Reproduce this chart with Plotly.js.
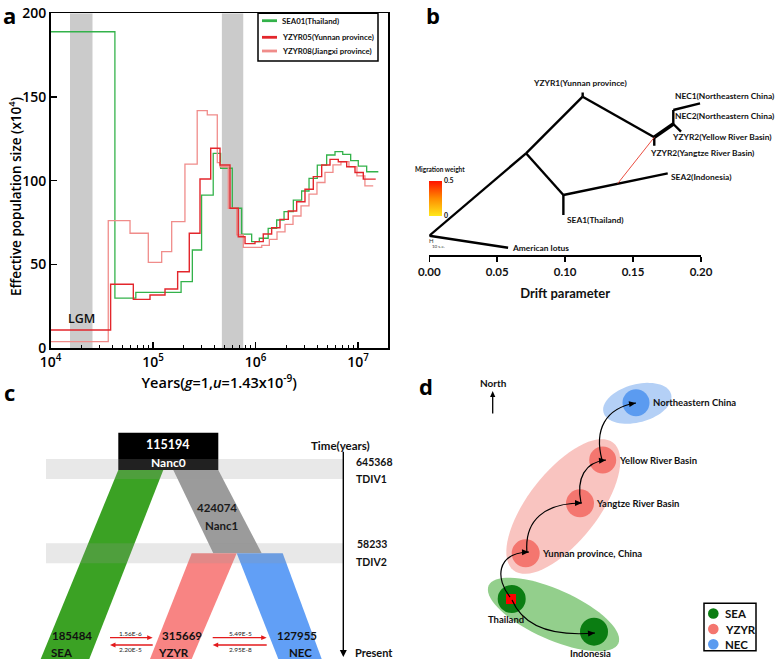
<!DOCTYPE html>
<html><head><meta charset="utf-8">
<script src="https://cdn.plot.ly/plotly-3.0.1.min.js"></script>
<style>html,body{margin:0;padding:0;background:#fff;}#chart{width:778px;height:659px;}</style>
</head><body><div id="chart"></div>
<script>
// ===== Panel a: PSMC effective population size =====
const psmcNames = ['SEA01(Thailand)', 'YZYR05(Yunnan province)', 'YZYR08(Jiangxi province)'];
const psmcColors = ['#33b24a', '#e3262c', '#f08c8a'];
const seaYears = [10000, 42500, 68000, 188000, 242000, 298000, 387000, 457000, 594000, 733000, 918000, 1090000, 1330000, 1610000, 1900000, 2340000, 2820000, 3330000, 4010000, 4950000, 5970000, 7100000, 8490000, 10070000, 12160000, 15800000];
const seaNe = [189, 29.9, 33.4, 39.8, 58.7, 91.5, 116.4, 107.5, 83.6, 68.2, 63.7, 65.7, 71.6, 76.6, 81.6, 88.5, 93.9, 101.5, 109.4, 115.4, 117.4, 115.8, 112, 108.8, 105.4, 105.4];
const yzyr05Years = [10000, 38600, 64300, 93500, 131000, 174000, 226000, 287500, 365800, 450800, 564000, 679000, 791000, 989000, 1191000, 1438000, 1734000, 2089000, 2522000, 3041000, 3666000, 4426000, 5336000, 6430000, 7763000, 9354000, 11270000, 14900000];
const yzyr05Ne = [10.9, 38.2, 29.2, 31.8, 35.4, 45.7, 68.7, 101.1, 119.4, 109.4, 83.6, 66.6, 62.5, 63.7, 68.2, 72, 77, 82, 87.5, 95, 102.5, 109.4, 112.8, 111.4, 108.4, 105, 101, 101];
const yzyr08Years = [10000, 36600, 59700, 90000, 121600, 152200, 205000, 270000, 338600, 424000, 451000, 543000, 656000, 761000, 1151000, 1365000, 1622000, 1942000, 2324000, 2781000, 3327000, 3981000, 4764000, 5702000, 6823000, 8166000, 9772000, 11690000, 14090000];
const yzyr08Ne = [4, 76.2, 68.7, 51.3, 57.7, 75.6, 110, 141.9, 139.3, 110.8, 108.4, 83.6, 67.7, 60.3, 61.5, 65, 69.5, 74, 79, 85, 92, 99, 105, 109.5, 111.5, 108.5, 103, 97, 97];
const lgmBand = [15500, 25700];
const secondBand = [470000, 760000];
const yearTickVals = [1e4, 1e5, 1e6, 1e7];
const yearTickText = ['10<sup>4</sup>', '10<sup>5</sup>', '10<sup>6</sup>', '10<sup>7</sup>'];
const neTickVals = [0, 50, 100, 150, 200];

// ===== Panel b: TreeMix drift tree =====
const nodeNames = ['root', 'lotus', 'A', 'YZYR1', 'YZYR1tip', 'Yangtze', 'YangtzeTip', 'NECnode', 'Yellow', 'NEC2', 'NEC1', 'SEAnode', 'SEA1', 'SEA2', 'migStart'];
const nodeDrift = [0.000, 0.058, 0.0712, 0.1129, 0.1129, 0.1656, 0.1656, 0.1796, 0.1853, 0.1796, 0.1993, 0.0987, 0.0987, 0.1755, 0.1387];
const nodeLevel = [19.3, 7.3, 101.7, 158.3, 162.5, 117.7, 109.3, 131, 123.3, 145, 151.7, 60, 40, 81.7, 71.5];
const edgeFrom = ['root', 'root', 'A', 'YZYR1', 'YZYR1', 'Yangtze', 'NECnode', 'NECnode', 'NEC2', 'A', 'SEAnode', 'SEAnode'];
const edgeTo = ['lotus', 'A', 'YZYR1', 'YZYR1tip', 'Yangtze', 'YangtzeTip', 'Yellow', 'NEC2', 'NEC1', 'SEAnode', 'SEA1', 'SEA2'];
const thickEdgeFrom = ['Yangtze'];
const thickEdgeTo = ['NECnode'];
const migrationFrom = ['migStart'];
const migrationTo = ['Yangtze'];
const tipLabels = ['YZYR1(Yunnan province)', 'NEC1(Northeastern China)', 'NEC2(Northeastern China)', 'YZYR2(Yellow River Basin)', 'YZYR2(Yangtze River Basin)', 'SEA2(Indonesia)', 'SEA1(Thailand)', 'American lotus'];
const tipLabelDrift = [0.1109, 0.1795, 0.1795, 0.1772, 0.1608, 0.1767, 0.0999, 0.0594];
const tipLabelLevel = [172.3, 159.3, 139.3, 117.7, 101.7, 78.3, 35, 7.3];
const driftTicks = [0, 0.05, 0.10, 0.15, 0.20];
const driftTickText = ['0.00', '0.05', '0.10', '0.15', '0.20'];

// ===== Panel c: demographic model =====
const popNames = ['SEA', 'YZYR', 'NEC'];
const popSizes = ['185484', '315669', '127955'];
const ancNames = ['Nanc0', 'Nanc1'];
const ancSizes = ['115194', '424074'];
const divNames = ['TDIV1', 'TDIV2'];
const divTimes = ['645368', '58233'];
const migRates = ['1.56E-6', '2.20E-5', '5.49E-5', '2.95E-8'];

// ===== Panel d: dispersal map =====
const siteNames = ['Northeastern China', 'Yellow River Basin', 'Yangtze River Basin', 'Yunnan province, China', 'Thailand', 'Indonesia'];
const groupNames = ['SEA', 'YZYR', 'NEC'];

const W = 778, H = 659;
const PX = p => p / W, PY = p => 1 - p / H;
const F = "'Open Sans', 'Noto Sans', sans-serif";
const N = "Lato, 'Liberation Sans Narrow', 'Roboto', sans-serif";

const traces = [];
function band(r) {
  return {x: [r[0], r[1], r[1], r[0], r[0]], y: [0, 0, 200, 200, 0], xaxis: 'x', yaxis: 'y', mode: 'lines',
    fill: 'toself', fillcolor: '#cbcbcb', line: {width: 0}, hoverinfo: 'skip', showlegend: false};
}
traces.push(band(lgmBand), band(secondBand));
traces.push({x: seaYears, y: seaNe, name: psmcNames[0], mode: 'lines', line: {shape: 'hv', color: psmcColors[0], width: 1.3}, xaxis: 'x', yaxis: 'y', showlegend: false});
traces.push({x: yzyr08Years, y: yzyr08Ne, name: psmcNames[2], mode: 'lines', line: {shape: 'hv', color: psmcColors[2], width: 1.3}, xaxis: 'x', yaxis: 'y', showlegend: false});
traces.push({x: yzyr05Years, y: yzyr05Ne, name: psmcNames[1], mode: 'lines', line: {shape: 'hv', color: psmcColors[1], width: 1.4}, xaxis: 'x', yaxis: 'y', showlegend: false});

function edgeTrace(from, to, color, width) {
  const xs = [], ys = [];
  from.forEach((f, i) => {
    const a = nodeNames.indexOf(f), b = nodeNames.indexOf(to[i]);
    xs.push(nodeDrift[a], nodeDrift[b], null);
    ys.push(nodeLevel[a], nodeLevel[b], null);
  });
  return {x: xs, y: ys, xaxis: 'x2', yaxis: 'y2', mode: 'lines', line: {color: color, width: width}, hoverinfo: 'skip', showlegend: false};
}
traces.push(edgeTrace(edgeFrom, edgeTo, '#000', 2.4));
traces.push(edgeTrace(thickEdgeFrom, thickEdgeTo, '#000', 3.8));
traces.push(edgeTrace(migrationFrom, migrationTo, '#e8392a', 0.9));
traces.push({x: [0.19], y: [190], xaxis: 'x2', yaxis: 'y2', mode: 'markers', hoverinfo: 'skip', showlegend: false,
  marker: {size: 1, opacity: 0, color: [0], cmin: 0, cmax: 0.5,
    colorscale: [[0, '#ffe81a'], [0.5, '#ff8c00'], [1, '#ff1200']], showscale: true,
    colorbar: {x: PX(429.3), xanchor: 'left', y: PY(180.5), yanchor: 'top', len: 35, lenmode: 'pixels',
      thickness: 13, thicknessmode: 'pixels', outlinewidth: 0, xpad: 0, ypad: 0,
      tickvals: [0, 0.5], ticktext: ['0', '0.5'], ticks: '', tickfont: {size: 7, family: N, weight: 'bold', color: '#111'}}}});

const minorVals = [];
for (let e = 4; e <= 7; e++) for (let m = 2; m <= 9; m++) minorVals.push(m * Math.pow(10, e));

const ann = [];
const shapes = [];
function paperText(text, px, py, size, opts) {
  ann.push(Object.assign({text: text, x: PX(px), y: PY(py), xref: 'paper', yref: 'paper', showarrow: false,
    xanchor: 'center', yanchor: 'middle',
    font: {size: size, family: F, color: '#000', weight: 'bold'}}, opts || {}));
}
// panel letters
paperText('a', 9, 15, 22);
paperText('b', 433, 15, 22);
paperText('c', 9, 392, 22);
paperText('d', 426, 386, 22);
// panel a axis title (y) and LGM label
paperText('Effective population size (x10<sup>4</sup>)', 15, 197, 13.5, {textangle: -90, font: {size: 13.5, family: F, color: '#000', weight: 600}});
ann.push({text: 'LGM', x: Math.log10(20100), y: 17.5, xref: 'x', yref: 'y', showarrow: false, font: {size: 12.5, family: F, weight: 600, color: '#111'}});
// panel a legend (drawn box with key lines)
shapes.push({type: 'rect', xref: 'paper', yref: 'paper', x0: PX(258), x1: PX(378), y0: PY(61), y1: PY(13.3), fillcolor: '#fff', line: {color: '#000', width: 1.5}});
const legendRowY = [20.7, 37.3, 51];
const legendOrder = [0, 1, 2];
legendOrder.forEach((k, i) => {
  shapes.push({type: 'line', xref: 'paper', yref: 'paper', x0: PX(262), x1: PX(277), y0: PY(legendRowY[i]), y1: PY(legendRowY[i]), line: {color: psmcColors[k], width: 2.8}});
  paperText(psmcNames[k], 280, legendRowY[i], 7.8, {xanchor: 'left', font: {size: 7.8, family: N, color: '#111', weight: 'bold'}});
});

// panel b tip labels
tipLabels.forEach((t, i) => {
  ann.push({text: t, x: tipLabelDrift[i], y: tipLabelLevel[i], xref: 'x2', yref: 'y2', showarrow: false,
    xanchor: i === 0 ? 'center' : 'left', yanchor: 'middle', font: {size: 8.4, family: N, weight: 'bold', color: '#111'}});
});
paperText('Migration weight', 440, 169.5, 6.5, {font: {size: 6.5, family: N, weight: 'bold', color: '#111'}});
ann.push({text: 'H', x: 0.0015, y: 14.5, xref: 'x2', yref: 'y2', showarrow: false, font: {size: 6, family: N, color: '#333'}});
ann.push({text: '10 s.e.', x: 0.0005, y: 8.5, xref: 'x2', yref: 'y2', showarrow: false, xanchor: 'left', font: {size: 4.5, family: N, color: '#333'}});

// helper: arrowhead triangle (units = page pixels)
function headPath(x, y, dx, dy, len, hw) {
  const L = Math.hypot(dx, dy), ux = dx / L, uy = dy / L;
  const bx = x - ux * len, by = y - uy * len;
  return 'M' + x + ',' + y + 'L' + (bx - uy * hw) + ',' + (by + ux * hw) + 'L' + (bx + uy * hw) + ',' + (by - ux * hw) + 'Z';
}
function straightArrow(ref, x0, y0, x1, y1, color, w, len, hw) {
  const dx = x1 - x0, dy = y1 - y0, L = Math.hypot(dx, dy);
  shapes.push(Object.assign({type: 'line', x0: x0, y0: y0, x1: x1 - dx / L * len * 0.8, y1: y1 - dy / L * len * 0.8, line: {color: color, width: w}}, ref));
  shapes.push(Object.assign({type: 'path', path: headPath(x1, y1, dx, dy, len, hw), fillcolor: color, line: {width: 0}}, ref));
}

// ===== panel c shapes (axis units = page pixels) =====
function poly(pts) { return 'M' + pts.map(p => p.join(',')).join('L') + 'Z'; }
const C = {xref: 'x3', yref: 'y3'};
shapes.push(Object.assign({type: 'path', path: poly([[118.3, 470], [163.3, 470], [89.3, 659], [40.7, 659]]), fillcolor: '#3ba224', line: {width: 0}}, C));
shapes.push(Object.assign({type: 'path', path: poly([[173.3, 470], [218.3, 470], [261.7, 553.3], [213.3, 553.3]]), fillcolor: '#9b9b9b', line: {width: 0}}, C));
shapes.push(Object.assign({type: 'path', path: poly([[191.7, 553.3], [236.7, 553.3], [191.7, 659], [150, 659]]), fillcolor: '#f88483', line: {width: 0}}, C));
shapes.push(Object.assign({type: 'path', path: poly([[236.7, 553.3], [282.7, 553.3], [321.7, 659], [278.3, 659]]), fillcolor: '#619ff6', line: {width: 0}}, C));
shapes.push(Object.assign({type: 'rect', x0: 118.3, x1: 218.3, y0: 432.7, y1: 470, fillcolor: '#000', line: {width: 0}}, C));
shapes.push(Object.assign({type: 'rect', x0: 46, x1: 343.3, y0: 459, y1: 479, fillcolor: '#949494', opacity: 0.22, line: {width: 0}}, C));
shapes.push(Object.assign({type: 'rect', x0: 46, x1: 343.3, y0: 543.3, y1: 563.3, fillcolor: '#949494', opacity: 0.22, line: {width: 0}}, C));
function cText(text, x, y, size, color, opts) {
  ann.push(Object.assign({text: text, x: x, y: y, xref: 'x3', yref: 'y3', showarrow: false, yanchor: 'middle',
    font: {size: size, family: N, weight: 'bold', color: color}}, opts || {}));
}
cText(ancSizes[0], 168.3, 444, 12.5, '#fff');
cText(ancNames[0], 168.3, 462.5, 12, '#fff');
cText(ancSizes[1], 216.7, 507.5, 11.5, '#1a1a1a');
cText(ancNames[1], 221.7, 525, 11.5, '#1a1a1a');
const popX = [71.7, 181.7, 296.7], popLabX = [61.7, 173.3, 300];
popNames.forEach((p, i) => {
  cText(popSizes[i], popX[i], 635.7, 11.5, '#111');
  cText(p, popLabX[i], 652.8, 11.5, '#111');
});
cText('Time(years)', 340, 445, 11.5, '#111');
cText(divTimes[0], 354, 461.7, 10.5, '#111', {xanchor: 'left'});
cText(divNames[0], 354, 479, 10.5, '#111', {xanchor: 'left'});
cText(divTimes[1], 355, 544.3, 10.5, '#111', {xanchor: 'left'});
cText(divNames[1], 354, 561.7, 10.5, '#111', {xanchor: 'left'});
cText('Present', 353, 652, 11, '#111', {xanchor: 'left'});
// migration arrows and time axis
straightArrow(C, 110, 637.7, 152.7, 637.7, '#e31a1c', 1.3, 5.5, 2.4);
straightArrow(C, 152.7, 645, 110, 645, '#e31a1c', 1.3, 5.5, 2.4);
straightArrow(C, 212.7, 637.7, 266.7, 637.7, '#e31a1c', 1.3, 5.5, 2.4);
straightArrow(C, 266.7, 645, 212.7, 645, '#e31a1c', 1.3, 5.5, 2.4);
const migX = [130, 130, 240, 240], migY = [633, 649.3, 633, 649.3];
migRates.forEach((m, i) => cText(m, migX[i], migY[i], 6.5, '#222', {font: {size: 6.5, family: N, color: '#222'}}));
straightArrow(C, 343.3, 451.7, 343.3, 657, '#000', 1.4, 7, 3.5);

// ===== panel d (axis units = page pixels) =====
const D = {xref: 'x4', yref: 'y4'};
function ellipsePath(cx, cy, a, b, deg) {
  const t = deg * Math.PI / 180; let s = '';
  for (let i = 0; i <= 72; i++) {
    const u = 2 * Math.PI * i / 72;
    const x = cx + a * Math.cos(t) * Math.cos(u) - b * Math.sin(t) * Math.sin(u);
    const y = cy - (a * Math.sin(t) * Math.cos(u) + b * Math.cos(t) * Math.sin(u));
    s += (i ? 'L' : 'M') + x.toFixed(2) + ',' + y.toFixed(2);
  }
  return s + 'Z';
}
shapes.push(Object.assign({type: 'path', path: ellipsePath(637.3, 403.3, 35, 19, 15), fillcolor: '#b4d0f6', line: {width: 0}}, D));
shapes.push(Object.assign({type: 'path', path: ellipsePath(563.3, 506.5, 81, 35, 52), fillcolor: '#f9c4c0', line: {width: 0}}, D));
shapes.push(Object.assign({type: 'path', path: ellipsePath(553.5, 614.5, 71, 25, -24), fillcolor: '#93cf8c', line: {width: 0}}, D));
const circ = [[636, 402.7, 13.5, '#5b9bf0'], [602.7, 460, 13.5, '#f4766f'], [580, 503.3, 14, '#f4766f'], [525.7, 553.3, 14, '#f4766f'], [511.7, 599, 14, '#0b7d12'], [594, 631.7, 14, '#0b7d12']];
circ.forEach(c => shapes.push(Object.assign({type: 'circle', x0: c[0] - c[2], x1: c[0] + c[2], y0: c[1] - c[2], y1: c[1] + c[2], fillcolor: c[3], line: {width: 0}}, D)));
shapes.push(Object.assign({type: 'rect', x0: 506, x1: 516, y0: 594, y1: 604, fillcolor: '#ff0000', line: {width: 0}}, D));
const curves = [
  [[510, 597], [496, 580], [495, 553], [529, 552]],
  [[527, 553], [524, 520], [545, 503], [582, 503]],
  [[581, 503], [576, 478], [585, 462], [606, 460]],
  [[602, 460], [594, 430], [605, 408], [636, 403]],
  [[512, 600], [525, 630], [560, 636], [595, 633]]
];
curves.forEach(c => {
  shapes.push(Object.assign({type: 'path', path: 'M' + c[0].join(',') + 'C' + c[1].join(',') + ' ' + c[2].join(',') + ' ' + c[3].join(','), line: {color: '#000', width: 1.2}}, D));
  shapes.push(Object.assign({type: 'path', path: headPath(c[3][0], c[3][1], c[3][0] - c[2][0], c[3][1] - c[2][1], 7, 3), fillcolor: '#000', line: {width: 0}}, D));
});
straightArrow(D, 492.7, 413.5, 492.7, 391, '#000', 1.3, 6, 2.6);
function dText(text, x, y, size, opts) {
  ann.push(Object.assign({text: text, x: x, y: y, xref: 'x4', yref: 'y4', showarrow: false, yanchor: 'middle',
    font: {size: size, family: N, weight: 'bold', color: '#111'}}, opts || {}));
}
dText('North', 493.3, 382.7, 10);
dText(siteNames[0], 650.7, 402.7, 9.5, {xanchor: 'left'});
dText(siteNames[1], 616.7, 460, 9.5, {xanchor: 'left'});
dText(siteNames[2], 594.3, 503.3, 9.5, {xanchor: 'left'});
dText(siteNames[3], 540, 553.3, 9.5, {xanchor: 'left'});
dText(siteNames[4], 506, 619, 9.5);
dText(siteNames[5], 590, 653, 9.5);
// group key
shapes.push(Object.assign({type: 'rect', x0: 704, x1: 756, y0: 603.3, y1: 650.7, fillcolor: '#fff', line: {color: '#000', width: 1.5}}, D));
const keyCol = ['#0b7d12', '#f4766f', '#5b9bf0'], keyY = [613.5, 629, 644.3];
groupNames.forEach((g, i) => {
  shapes.push(Object.assign({type: 'circle', x0: 708, x1: 718.6, y0: keyY[i] - 5.3, y1: keyY[i] + 5.3, fillcolor: keyCol[i], line: {width: 0}}, D));
  dText(g, 723, keyY[i], 11.5, {xanchor: 'left'});
});

const layout = {
  width: W, height: H, margin: {l: 0, r: 0, t: 0, b: 0}, paper_bgcolor: '#fff', plot_bgcolor: 'rgba(0,0,0,0)',
  font: {family: F, color: '#000'}, showlegend: false, hovermode: false,
  xaxis: {type: 'log', domain: [PX(50.5), PX(388)], range: [4, 7.293], anchor: 'y', tickmode: 'array', tickvals: yearTickVals, ticktext: yearTickText,
    ticks: 'inside', ticklen: 6, tickwidth: 1.2, tickcolor: '#000', showline: true, linecolor: '#000', linewidth: 1.5, mirror: true,
    showgrid: false, zeroline: false, tickfont: {size: 14, family: F, color: '#000', weight: 600},
    minor: {tickmode: 'array', tickvals: minorVals, ticks: 'inside', ticklen: 3.5, tickwidth: 1, tickcolor: '#000', showgrid: false},
    title: {text: 'Years(<i>g</i>=1,<i>u</i>=1.43x10<sup>-9</sup>)', font: {size: 14.5, family: F, color: '#000', weight: 600}, standoff: 2}},
  yaxis: {domain: [PY(348.3), PY(13.3)], range: [0, 200], anchor: 'x', tickmode: 'array', tickvals: neTickVals,
    ticks: 'inside', ticklen: 6, tickwidth: 1.2, tickcolor: '#000', showline: true, linecolor: '#000', linewidth: 1.5, mirror: true,
    showgrid: false, zeroline: false, tickfont: {size: 14, family: F, color: '#000', weight: 600}},
  xaxis2: {domain: [PX(429.3), PX(701)], range: [0, 0.2], anchor: 'y2', showline: true, linecolor: '#000', linewidth: 1.8,
    ticks: 'outside', ticklen: 5, tickwidth: 1.5, tickcolor: '#000', tickmode: 'array', tickvals: driftTicks, ticktext: driftTickText,
    showgrid: false, zeroline: false, tickfont: {size: 11.5, family: N, color: '#111', weight: 'bold'},
    title: {text: 'Drift parameter', font: {size: 13, family: N, color: '#111', weight: 'bold'}, standoff: 12}},
  yaxis2: {domain: [PY(255), PY(60)], range: [0, 195], anchor: 'x2', visible: false},
  xaxis3: {domain: [0, PX(400)], range: [0, 400], anchor: 'y3', visible: false},
  yaxis3: {domain: [0, PY(385)], range: [659, 385], anchor: 'x3', visible: false},
  xaxis4: {domain: [PX(400), 1], range: [400, 778], anchor: 'y4', visible: false},
  yaxis4: {domain: [0, PY(375)], range: [659, 375], anchor: 'x4', visible: false},
  annotations: ann, shapes: shapes
};
Plotly.newPlot('chart', traces, layout, {displayModeBar: false, staticPlot: true});
</script></body></html>
